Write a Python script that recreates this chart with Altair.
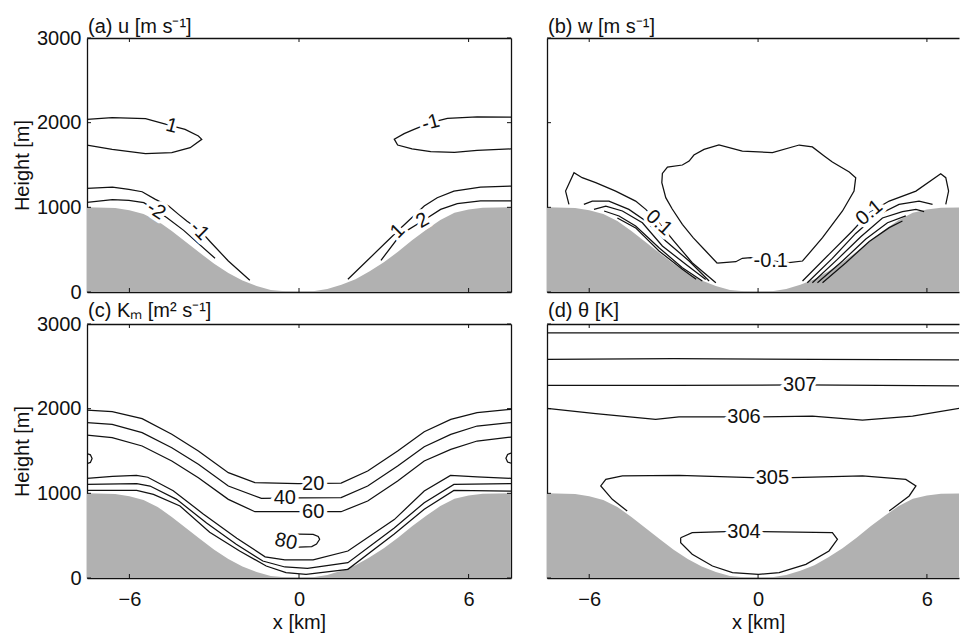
import altair as alt
import pandas as pd

FONT = "Liberation Sans"
INK = "#111111"
GROUND = "#b1b1b1"

PANEL_W = 424        # left column plot width
PANEL_W_CUT = 412    # right column is cut at the page edge
PANEL_H = 254
TICK_PX = 4

X_FULL = [-7.5, 7.5]
X_CUT = [-7.5, 7.14]
Y_DOM = [0, 3000]
X_TICKS = [-6, 0, 6]
Y_TICKS = [0, 1000, 2000, 3000]

# valley floor profile (km, m)
TERRAIN_X = [-7.5, -6.5, -6.0, -5.5, -5.0, -4.5, -4.0, -3.5, -3.0, -2.5, -2.0, -1.5, -1.0, -0.5, 0.0,
             0.5, 1.0, 1.5, 2.0, 2.5, 3.0, 3.5, 4.0, 4.5, 5.0, 5.5, 6.0, 6.5, 7.5]
TERRAIN_H = [1000, 992, 965, 920, 840, 720, 590, 460, 335, 225, 135, 70, 25, 8, 5,
             10, 35, 85, 150, 245, 350, 475, 610, 735, 850, 935, 975, 995, 1000]

# (a) along-valley wind u
U_CONTOURS = {
    "upper_left": [(-7.5, 2039), (-6.61, 2059), (-5.43, 2047), (-4.5, 1963), (-4.03, 1921), (-3.56, 1843),
                   (-3.44, 1803), (-3.85, 1705), (-4.5, 1646), (-5.43, 1634), (-6.61, 1685), (-7.5, 1736)],
    "upper_right": [(7.5, 2065), (6.3, 2067), (5.25, 2051), (4.66, 2000), (4.07, 1921), (3.72, 1870),
                    (3.37, 1805), (3.49, 1736), (4.0, 1690), (4.66, 1657), (5.5, 1650), (6.3, 1673), (7.5, 1690)],
    "slope_left_outer": [(-7.5, 1224), (-6.6, 1240), (-6.02, 1212), (-5.55, 1184), (-5.08, 1094), (-4.61, 1015),
                         (-4.26, 917), (-3.97, 838), (-3.5, 728), (-3.14, 594), (-2.5, 366), (-1.74, 138)],
    "slope_left_inner": [(-7.5, 1059), (-6.6, 1091), (-6.02, 1083), (-5.49, 1055), (-5.02, 956), (-4.67, 877),
                         (-4.08, 728), (-2.97, 398)],
    "slope_right_outer": [(1.73, 150), (3.49, 720), (4.43, 1015), (4.89, 1113), (5.48, 1192), (6.42, 1240),
                          (7.5, 1251)],
    "slope_right_inner": [(2.9, 374), (3.6, 681), (4.37, 838), (5.01, 976), (5.6, 1043), (6.42, 1075), (7.5, 1075)],
}
U_LABELS = [("1", -4.5, 1963, 15), ("-1", 4.66, 2000, 345), ("-2", -5.05, 962, 33),
            ("-1", -3.52, 722, 45), ("1", 3.49, 720, 315), ("2", 4.37, 845, 330)]

# (b) vertical wind w
W_CONTOURS = {
    "center": [(-1.45, 340), (-1.86, 484), (-2.30, 640), (-2.69, 799), (-3.05, 980), (-3.28, 1114), (-3.42, 1290),
               (-3.40, 1400), (-3.22, 1476), (-2.69, 1500), (-2.45, 1547), (-2.28, 1618), (-1.92, 1685),
               (-1.39, 1736), (-0.56, 1665), (0.51, 1646), (1.46, 1736), (1.93, 1713), (2.35, 1606),
               (2.64, 1535), (3.24, 1417), (3.47, 1350), (3.41, 1192), (3.0, 957), (2.29, 641), (1.58, 366),
               (1.10, 346), (0.45, 368), (-0.26, 406), (-0.56, 398), (-0.79, 358), (-1.45, 340)],
    "left_outer": [(-6.72, 1035), (-6.84, 1192), (-6.54, 1409), (-6.25, 1350), (-5.77, 1291), (-5.06, 1192),
                   (-4.35, 1074), (-3.99, 976), (-3.52, 818), (-2.99, 602), (-2.34, 346), (-1.50, 110)],
    "left_in1": [(-6.19, 1035), (-5.89, 1074), (-5.30, 1074), (-4.59, 976), (-3.99, 839), (-3.28, 602),
                 (-2.45, 366), (-1.74, 130)],
    "left_in2": [(-5.83, 976), (-5.41, 1015), (-4.82, 957), (-4.11, 818), (-3.40, 543), (-2.57, 327), (-1.86, 149)],
    "left_in3": [(-5.47, 957), (-4.94, 898), (-4.35, 780), (-3.52, 523), (-2.69, 287), (-1.98, 130)],
    "left_in4": [(-5.0, 874), (-4.35, 757), (-3.52, 484), (-2.69, 268), (-2.2, 150)],
    "right_outer": [(1.58, 130), (2.52, 445), (3.35, 720), (3.95, 937), (4.66, 1074), (5.61, 1192),
                    (6.49, 1397), (6.67, 1350), (6.77, 1192), (6.67, 1035)],
    "right_in1": [(1.75, 110), (2.64, 397), (3.47, 692), (4.18, 898), (5.01, 1035), (5.72, 1074), (6.20, 1035)],
    "right_in2": [(1.93, 110), (2.82, 385), (3.65, 653), (4.42, 874), (5.13, 950), (5.61, 975), (5.9, 950)],
    "right_in3": [(2.11, 110), (3.0, 366), (3.83, 626), (4.60, 818), (5.25, 900)],
    "right_in4": [(2.29, 110), (3.12, 346), (3.95, 596), (4.66, 760), (5.13, 839)],
}
W_LABELS = [("0.1", -3.52, 818, 42), ("0.1", 3.95, 937, 320), ("-0.1", 0.45, 368, 0)]

# (c) eddy viscosity K_m
K_CONTOURS = {
    "k20": [(-7.5, 1984), (-6.61, 1965), (-5.55, 1882), (-4.50, 1697), (-3.56, 1500), (-2.50, 1244),
            (-1.56, 1126), (-0.04, 1114), (1.49, 1122), (2.43, 1264), (3.49, 1500), (4.43, 1728),
            (5.37, 1874), (6.30, 1953), (7.5, 1992)],
    "k40": [(-7.5, 1835), (-6.61, 1815), (-5.55, 1717), (-4.50, 1539), (-3.56, 1343), (-2.50, 1087),
            (-1.33, 941), (0.0, 945), (1.49, 949), (2.43, 1087), (3.49, 1323), (4.43, 1551), (5.37, 1697),
            (6.30, 1795), (7.5, 1835)],
    "k60": [(-7.5, 1689), (-6.61, 1657), (-5.55, 1559), (-4.50, 1382), (-3.56, 1185), (-2.50, 929),
            (-1.56, 783), (0.0, 783), (1.49, 783), (2.43, 909), (3.49, 1146), (4.43, 1382), (5.37, 1520),
            (6.30, 1618), (7.5, 1665)],
    "k80": [(-0.75, 520), (0.0, 518), (0.5, 516), (0.68, 490), (0.73, 457), (0.62, 400), (0.45, 370),
            (0.0, 366), (-0.35, 366)],
    "low1": [(-7.5, 1177), (-6.6, 1200), (-5.75, 1212), (-5.35, 1190), (-4.45, 1030), (-3.4, 760),
             (-2.2, 470), (-1.2, 250), (-0.5, 215), (0.5, 215), (1.73, 319), (3.37, 690), (4.43, 1027),
             (5.36, 1212), (6.30, 1193), (7.5, 1177)],
    "low2": [(-7.5, 1106), (-5.74, 1114), (-5.27, 1086), (-4.33, 929), (-3.27, 650), (-2.22, 398),
             (-1.28, 201), (-0.5, 130), (0.3, 115), (1.73, 181), (3.37, 590), (4.43, 889), (5.48, 1106),
             (7.5, 1114)],
    "low3": [(-7.5, 1035), (-5.74, 1035), (-5.15, 988), (-4.21, 850), (-3.16, 540), (-2.10, 319),
             (-1.16, 142), (-0.46, 63), (0.25, 44), (1.73, 103), (3.37, 520), (4.43, 811), (5.48, 1035),
             (7.5, 1027)],
    "edge_left": [(-7.5, 1470), (-7.38, 1455), (-7.32, 1410), (-7.38, 1365), (-7.5, 1350)],
    "edge_right": [(7.5, 1475), (7.38, 1460), (7.32, 1415), (7.38, 1370), (7.5, 1355)],
}
K_LABELS = [("20", 0.5, 1114, 0), ("40", -0.5, 945, 0), ("60", 0.5, 783, 0), ("80", -0.46, 430, 12)]

# (d) potential temperature
T_CONTOURS = {
    "t_top": [(-7.5, 2896), (0.0, 2896), (7.5, 2896)],
    "t_2": [(-7.5, 2583), (-3.0, 2591), (2.0, 2583), (7.5, 2575)],
    "t307": [(-7.5, 2276), (-3.0, 2276), (1.5, 2280), (7.5, 2268)],
    "t306": [(-7.5, 2004), (-5.77, 1941), (-3.64, 1874), (-2.81, 1902), (0.15, 1902), (1.93, 1913),
             (3.71, 1866), (5.49, 1913), (7.15, 2004), (7.5, 2015)],
    "t305": [(-4.65, 791), (-5.18, 929), (-5.59, 1087), (-5.41, 1165), (-4.82, 1205), (-2.81, 1213),
             (-0.20, 1185), (1.22, 1185), (3.71, 1205), (5.25, 1165), (5.61, 1087), (5.37, 969), (4.66, 791)],
    "t304": [(-2.75, 476), (-2.34, 535), (-1.15, 547), (0.15, 547), (2.64, 535), (2.82, 457), (2.52, 319),
             (1.70, 161), (0.75, 63), (0.01, 43), (-0.91, 63), (-1.62, 142), (-2.34, 280), (-2.75, 417),
             (-2.75, 476)],
}
T_LABELS = [("307", 1.48, 2278, 0), ("306", -0.5, 1902, 0), ("305", 0.51, 1185, 0), ("304", -0.5, 547, 0)]


def contour_table(contours):
    rows = []
    for name, pts in contours.items():
        for i, (x, h) in enumerate(pts):
            rows.append({"seg": name, "i": i, "x": x, "h": h})
    return pd.DataFrame(rows)


def label_table(labels):
    return pd.DataFrame(labels, columns=["label", "x", "h", "angle"])


def tick_table(xdom, width, left_col):
    dh = TICK_PX * (Y_DOM[1] - Y_DOM[0]) / PANEL_H
    dx = TICK_PX * (xdom[1] - xdom[0]) / width
    rows = []
    for t in X_TICKS:
        rows.append({"x1": t, "x2": t, "h1": Y_DOM[0], "h2": Y_DOM[0] + dh})
        rows.append({"x1": t, "x2": t, "h1": Y_DOM[1] - dh, "h2": Y_DOM[1]})
    for t in Y_TICKS:
        rows.append({"x1": xdom[0], "x2": xdom[0] + dx, "h1": t, "h2": t})
        if left_col:
            rows.append({"x1": xdom[1] - dx, "x2": xdom[1], "h1": t, "h2": t})
    return pd.DataFrame(rows)


def panel(title, contours, labels, xdom, width, left_col, bottom_row):
    xs = alt.Scale(domain=xdom, nice=False, zero=False)
    ys = alt.Scale(domain=Y_DOM, nice=False, zero=False)
    zero_at = (0 - xdom[0]) / (xdom[1] - xdom[0]) * width

    bottom_axis = alt.Axis(orient="bottom", values=X_TICKS, labels=bottom_row, ticks=False, grid=False,
                           labelPadding=11, titlePadding=3, titleX=zero_at, labelFlush=False,
                           minExtent=0)
    left_axis = alt.Axis(orient="left", values=Y_TICKS, labels=left_col, ticks=False, grid=False,
                         labelPadding=6, titlePadding=4, labelFlush=False, format="d")
    top_axis = alt.Axis(orient="top", labels=False, ticks=False, grid=False, minExtent=0, maxExtent=0)
    right_axis = alt.Axis(orient="right", labels=False, ticks=False, grid=False, minExtent=0, maxExtent=0)

    ground = pd.DataFrame({"x": TERRAIN_X, "h": TERRAIN_H})
    area = alt.Chart(ground).mark_area(color=GROUND, clip=True).encode(
        x=alt.X("x:Q", scale=xs, axis=bottom_axis, title="x [km]" if bottom_row else None),
        y=alt.Y("h:Q", scale=ys, axis=left_axis, title="Height [m]" if left_col else None),
    )
    lines = alt.Chart(contour_table(contours)).mark_line(color=INK, strokeWidth=1.25, clip=True).encode(
        x=alt.X("x:Q", scale=xs, axis=top_axis, title=None),
        y=alt.Y("h:Q", scale=ys, axis=right_axis if left_col else None, title=None),
        detail="seg:N",
        order="i:Q",
    )
    ldf = label_table(labels)
    halo = alt.Chart(ldf).mark_text(font=FONT, fontSize=20, color="white", stroke="white", strokeWidth=7,
                                    strokeJoin="round", baseline="middle").encode(
        x=alt.X("x:Q", scale=xs, axis=None),
        y=alt.Y("h:Q", scale=ys, axis=None),
        text="label:N",
        angle=alt.Angle("angle:Q", scale=None),
    )
    text = alt.Chart(ldf).mark_text(font=FONT, fontSize=20, color=INK, baseline="middle").encode(
        x=alt.X("x:Q", scale=xs, axis=None),
        y=alt.Y("h:Q", scale=ys, axis=None),
        text="label:N",
        angle=alt.Angle("angle:Q", scale=None),
    )
    ticks = alt.Chart(tick_table(xdom, width, left_col)).mark_rule(color=INK, strokeWidth=1).encode(
        x=alt.X("x1:Q", scale=xs, axis=None),
        x2="x2:Q",
        y=alt.Y("h1:Q", scale=ys, axis=None),
        y2="h2:Q",
    )
    # panel heading, written just above the top-left corner of the plot frame
    heading = alt.Chart(pd.DataFrame({"t": [title]})).mark_text(
        font=FONT, fontSize=20, color=INK, align="left", baseline="alphabetic"
    ).encode(text="t:N", x=alt.value(1), y=alt.value(-7 if bottom_row else -5))

    return alt.layer(area, lines, halo, text, ticks, heading).resolve_axis(
        x="independent", y="independent"
    ).properties(width=width, height=PANEL_H)


pa = panel("(a) u [m s⁻¹]", U_CONTOURS, U_LABELS, X_FULL, PANEL_W, True, False)
pb = panel("(b) w [m s⁻¹]", W_CONTOURS, W_LABELS, X_CUT, PANEL_W_CUT, False, False)
pc = panel("(c) Kₘ [m² s⁻¹]", K_CONTOURS, K_LABELS, X_FULL, PANEL_W, True, True)
pd_ = panel("(d) θ [K]", T_CONTOURS, T_LABELS, X_CUT, PANEL_W_CUT, False, True)

chart = alt.concat(
    pa, pb, pc, pd_, columns=2, spacing={"row": 32, "column": 36}, bounds="flush"
).properties(
    padding={"left": 12, "top": 16, "right": 0, "bottom": 0},
    background="white",
).configure_view(
    stroke="transparent"
).configure_axis(
    labelFont=FONT, labelFontSize=20, labelColor=INK,
    titleFont=FONT, titleFontSize=20, titleFontWeight="normal", titleColor=INK,
    domainColor=INK, domainWidth=1.3,
)

chart.save("out.html", embed_options={"renderer": "svg", "actions": False})
